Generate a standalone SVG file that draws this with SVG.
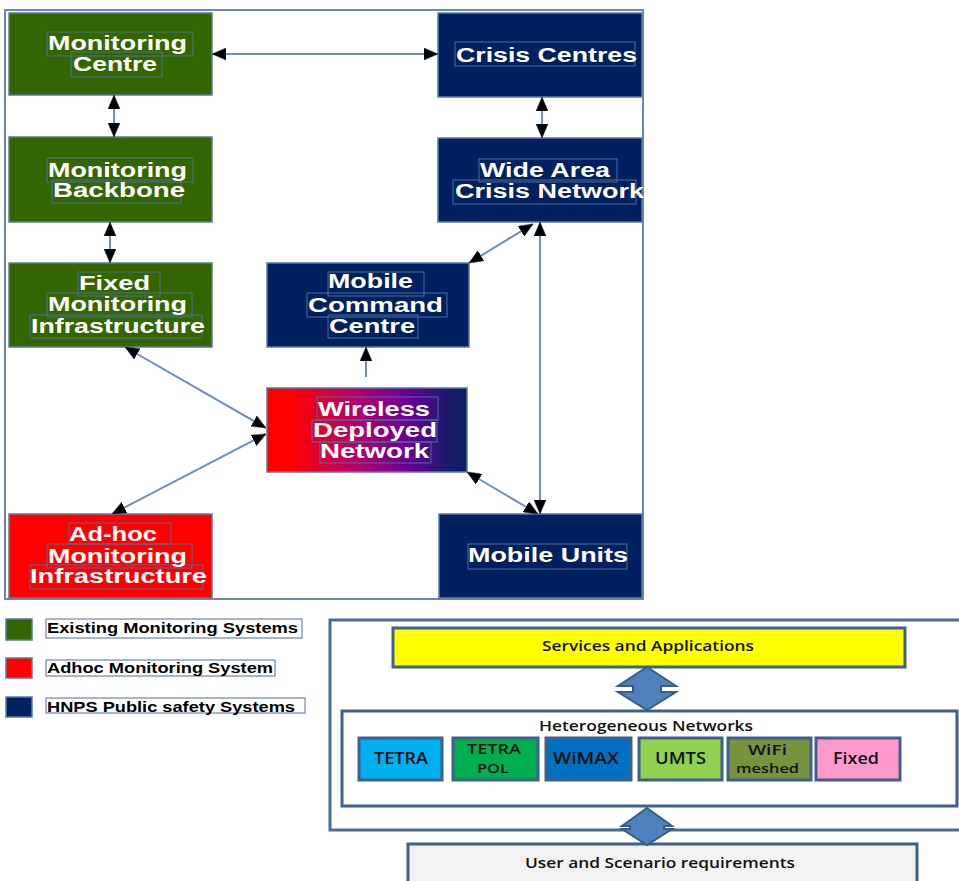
<svg xmlns="http://www.w3.org/2000/svg" width="959" height="881" viewBox="0 0 959 881">
<style>
.frame{fill:none;stroke:#6a87ad;stroke-width:2}
.node{stroke:#5a7aa5;stroke-width:1.5}
.green{fill:#336600}
.navy{fill:#002060}
.red{fill:#ff0000}
.nt{font-family:"Liberation Sans",Arial,sans-serif;font-weight:bold;font-size:20px;fill:#ffffff}
.tb{fill:none;stroke:#4f6d99;stroke-width:1}
.conn{fill:none;stroke:#7090b5;stroke-width:2}
.lt{font-family:"Liberation Sans",Arial,sans-serif;font-weight:bold;font-size:14px;fill:#000}
.pb{stroke:#3f5f8f;stroke-width:3}
.bt{font-family:"Open Sans","Liberation Sans",sans-serif;font-weight:600;fill:#111}
.dbl{fill:#4f81bd;stroke:#385d8a;stroke-width:2}
</style>
<defs>
<marker id="ah" viewBox="0 0 14 12" refX="14" refY="6" markerWidth="14" markerHeight="12" markerUnits="userSpaceOnUse" orient="auto-start-reverse">
<path d="M0,0 L14,6 L0,12 z" fill="#000" stroke="#1a2a4a" stroke-width="0.5"/>
</marker>
<linearGradient id="wdn" x1="0" y1="0" x2="1" y2="0">
<stop offset="0" stop-color="#ff0000"/>
<stop offset="0.12" stop-color="#ff0000"/>
<stop offset="0.45" stop-color="#b5006e"/>
<stop offset="0.72" stop-color="#660099"/>
<stop offset="0.9" stop-color="#1c1a6c"/>
<stop offset="1" stop-color="#0a1e5e"/>
</linearGradient>
</defs>
<rect width="959" height="881" fill="#ffffff"/>

<rect class="frame" x="5" y="10" width="638" height="589"/>

<g id="monitoring-centre">
<rect class="node green" x="9" y="13" width="203" height="82"/>
<rect class="tb" x="47" y="32" width="146" height="24"/>
<rect class="tb" x="71" y="52" width="91" height="25"/>
<text class="nt" x="48" y="50" textLength="139" lengthAdjust="spacingAndGlyphs">Monitoring</text>
<text class="nt" x="73" y="71" textLength="84" lengthAdjust="spacingAndGlyphs">Centre</text>
</g>

<g id="monitoring-backbone">
<rect class="node green" x="9" y="137" width="203" height="85"/>
<rect class="tb" x="47" y="158" width="146" height="24"/>
<rect class="tb" x="52" y="180" width="129" height="23"/>
<text class="nt" x="48" y="177" textLength="139" lengthAdjust="spacingAndGlyphs">Monitoring</text>
<text class="nt" x="53" y="197" textLength="132" lengthAdjust="spacingAndGlyphs">Backbone</text>
</g>

<g id="fixed-monitoring">
<rect class="node green" x="9" y="263" width="203" height="84"/>
<rect class="tb" x="78" y="272" width="82" height="24"/>
<rect class="tb" x="47" y="293" width="145" height="24"/>
<rect class="tb" x="30" y="315" width="172" height="23"/>
<text class="nt" x="79" y="290" textLength="71" lengthAdjust="spacingAndGlyphs">Fixed</text>
<text class="nt" x="48" y="311" textLength="139" lengthAdjust="spacingAndGlyphs">Monitoring</text>
<text class="nt" x="31" y="333" textLength="174" lengthAdjust="spacingAndGlyphs">Infrastructure</text>
</g>

<g id="crisis-centres">
<rect class="node navy" x="438" y="13" width="204" height="84"/>
<rect class="tb" x="455" y="42" width="180" height="24"/>
<text class="nt" x="456" y="62" textLength="181" lengthAdjust="spacingAndGlyphs">Crisis Centres</text>
</g>

<g id="wide-area-crisis-network">
<rect class="node navy" x="438" y="138" width="204" height="84"/>
<rect class="tb" x="479" y="159" width="138" height="23"/>
<rect class="tb" x="453" y="180" width="183" height="24"/>
<text class="nt" x="480" y="177" textLength="130" lengthAdjust="spacingAndGlyphs">Wide Area</text>
<text class="nt" x="455" y="198" textLength="189" lengthAdjust="spacingAndGlyphs">Crisis Network</text>
</g>

<g id="mobile-command-centre">
<rect class="node navy" x="267" y="263" width="202" height="84"/>
<rect class="tb" x="328" y="272" width="96" height="24"/>
<rect class="tb" x="307" y="293" width="140" height="24"/>
<rect class="tb" x="328" y="315" width="90" height="23"/>
<text class="nt" x="328" y="288" textLength="85" lengthAdjust="spacingAndGlyphs">Mobile</text>
<text class="nt" x="308" y="312" textLength="135" lengthAdjust="spacingAndGlyphs">Command</text>
<text class="nt" x="329" y="333" textLength="86" lengthAdjust="spacingAndGlyphs">Centre</text>
</g>

<g id="wireless-deployed-network">
<rect class="node" fill="url(#wdn)" x="267" y="388" width="200" height="84"/>
<rect class="tb" x="317" y="397" width="121" height="23"/>
<rect class="tb" x="312" y="420" width="125" height="22"/>
<rect class="tb" x="320" y="442" width="111" height="21"/>
<text class="nt" x="318" y="416" textLength="112" lengthAdjust="spacingAndGlyphs">Wireless</text>
<text class="nt" x="313" y="437" textLength="124" lengthAdjust="spacingAndGlyphs">Deployed</text>
<text class="nt" x="320" y="458" textLength="109" lengthAdjust="spacingAndGlyphs">Network</text>
</g>

<g id="adhoc-monitoring">
<rect class="node red" x="9" y="514" width="203" height="84"/>
<rect class="tb" x="69" y="523" width="102" height="21"/>
<rect class="tb" x="47" y="544" width="145" height="24"/>
<rect class="tb" x="30" y="565" width="173" height="24"/>
<text class="nt" x="69" y="541" textLength="88" lengthAdjust="spacingAndGlyphs">Ad-hoc</text>
<text class="nt" x="48" y="563" textLength="139" lengthAdjust="spacingAndGlyphs">Monitoring</text>
<text class="nt" x="30" y="583" textLength="177" lengthAdjust="spacingAndGlyphs">Infrastructure</text>
</g>

<g id="mobile-units">
<rect class="node navy" x="439" y="514" width="203" height="84"/>
<rect class="tb" x="468" y="544" width="159" height="25"/>
<text class="nt" x="468" y="562" textLength="160" lengthAdjust="spacingAndGlyphs">Mobile Units</text>
</g>

<g id="connectors">
<line class="conn" x1="212" y1="54" x2="438" y2="54" marker-start="url(#ah)" marker-end="url(#ah)"/>
<line class="conn" x1="114" y1="95" x2="114" y2="137" marker-start="url(#ah)" marker-end="url(#ah)"/>
<line class="conn" x1="110" y1="222" x2="110" y2="263" marker-start="url(#ah)" marker-end="url(#ah)"/>
<line class="conn" x1="542" y1="97" x2="542" y2="138" marker-start="url(#ah)" marker-end="url(#ah)"/>
<line class="conn" x1="533" y1="224" x2="469" y2="263" marker-start="url(#ah)" marker-end="url(#ah)"/>
<line class="conn" x1="540" y1="222" x2="540" y2="514" marker-start="url(#ah)" marker-end="url(#ah)"/>
<line class="conn" x1="366" y1="377" x2="366" y2="347" marker-end="url(#ah)"/>
<line class="conn" x1="125" y1="347" x2="266" y2="428" marker-start="url(#ah)" marker-end="url(#ah)"/>
<line class="conn" x1="112" y1="514" x2="266" y2="434" marker-start="url(#ah)" marker-end="url(#ah)"/>
<line class="conn" x1="467" y1="472" x2="538" y2="514" marker-start="url(#ah)" marker-end="url(#ah)"/>
</g>

<g id="legend">
<rect class="node green" x="6" y="619" width="26" height="21"/>
<rect class="node red" x="6" y="658" width="26" height="20"/>
<rect class="node navy" x="6" y="697" width="26" height="20"/>
<rect class="tb" x="46" y="619" width="256" height="19"/>
<rect class="tb" x="46" y="660" width="229" height="16"/>
<rect class="tb" x="46" y="698" width="259" height="15"/>
<text class="lt" x="47" y="633" textLength="251" lengthAdjust="spacingAndGlyphs">Existing Monitoring Systems</text>
<text class="lt" x="47" y="673" textLength="226" lengthAdjust="spacingAndGlyphs">Adhoc Monitoring System</text>
<text class="lt" x="47" y="712" textLength="248" lengthAdjust="spacingAndGlyphs">HNPS Public safety Systems</text>
</g>

<g id="architecture-panel">
<rect x="330" y="620" width="640" height="210" fill="#ffffff" stroke="#4a6a9a" stroke-width="3"/>
</g>

<g id="services-applications">
<rect class="pb" fill="#ffff00" x="393" y="628" width="512" height="39"/>
<text class="bt" font-size="14" x="542" y="651" textLength="212" lengthAdjust="spacingAndGlyphs">Services and Applications</text>
</g>

<g id="heterogeneous-networks">
<rect class="pb" fill="#ffffff" x="342" y="711" width="615" height="95"/>
<text class="bt" font-size="14" x="539" y="731" textLength="214" lengthAdjust="spacingAndGlyphs">Heterogeneous Networks</text>
</g>

<g id="tetra">
<rect class="pb" fill="#00b0f0" x="359" y="738" width="83" height="42"/>
<text class="bt" font-size="16" x="374" y="764" textLength="54" lengthAdjust="spacingAndGlyphs">TETRA</text>
</g>
<g id="tetrapol">
<rect class="pb" fill="#00b050" x="453" y="738" width="85" height="42"/>
<text class="bt" font-size="14" x="467" y="754" textLength="54" lengthAdjust="spacingAndGlyphs">TETRA</text>
<text class="bt" font-size="13" x="477" y="773" textLength="32" lengthAdjust="spacingAndGlyphs">POL</text>
</g>
<g id="wimax">
<rect class="pb" fill="#0070c0" x="546" y="738" width="85" height="42"/>
<text class="bt" font-size="16" x="553" y="764" textLength="66" lengthAdjust="spacingAndGlyphs">WiMAX</text>
</g>
<g id="umts">
<rect class="pb" fill="#92d050" x="639" y="738" width="83" height="42"/>
<text class="bt" font-size="16" x="655" y="764" textLength="51" lengthAdjust="spacingAndGlyphs">UMTS</text>
</g>
<g id="wifi-meshed">
<rect class="pb" fill="#77933c" x="728" y="738" width="83" height="42"/>
<text class="bt" font-size="14" x="748" y="755" textLength="39" lengthAdjust="spacingAndGlyphs">WiFi</text>
<text class="bt" font-size="12" x="736" y="773" textLength="63" lengthAdjust="spacingAndGlyphs">meshed</text>
</g>
<g id="fixed">
<rect class="pb" fill="#ff99cc" x="816" y="738" width="84" height="42"/>
<text class="bt" font-size="16" x="833" y="764" textLength="46" lengthAdjust="spacingAndGlyphs">Fixed</text>
</g>

<g id="user-scenario">
<rect class="pb" fill="#f2f2f2" x="408" y="844" width="509" height="50"/>
<text class="bt" font-size="14" x="525" y="868" textLength="270" lengthAdjust="spacingAndGlyphs">User and Scenario requirements</text>
</g>

<g id="block-arrows">
<polygon class="dbl" points="647,667 676,686 661,686 661,692 676,692 647,710 618,692 633,692 633,686 618,686"/>
<polygon class="dbl" points="647,808 672,826 664,826 664,829 672,829 647,845 622,829 630,829 630,826 622,826"/>
</g>
</svg>
